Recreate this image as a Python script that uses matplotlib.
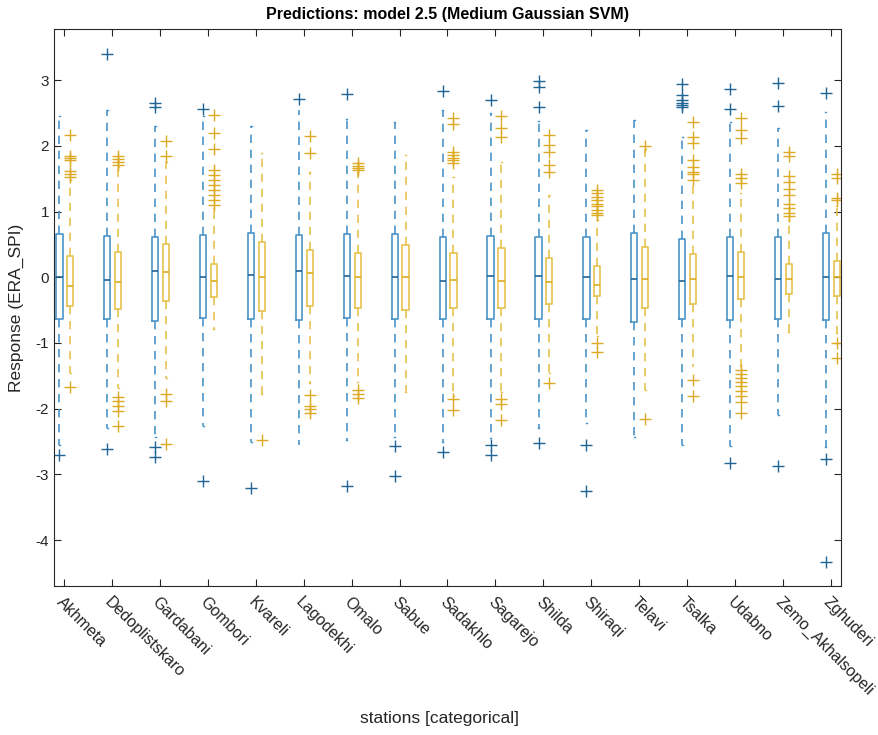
import matplotlib
matplotlib.use('Agg')
import matplotlib.pyplot as plt
import numpy as np

plt.rcParams['font.family'] = ['Liberation Sans', 'DejaVu Sans']
plt.rcParams['axes.unicode_minus'] = False

stations = ['Akhmeta', 'Dedoplistskaro', 'Gardabani', 'Gombori', 'Kvareli', 'Lagodekhi',
            'Omalo', 'Sabue', 'Sadakhlo', 'Sagarejo', 'Shilda', 'Shiraqi', 'Telavi',
            'Tsalka', 'Udabno', 'Zemo_Akhalsopeli', 'Zghuderi']

# true response (blue)
true_q1 = [-0.64, -0.64, -0.66, -0.62, -0.63, -0.65, -0.62, -0.64, -0.64, -0.63, -0.64,
           -0.64, -0.68, -0.64, -0.65, -0.64, -0.65]
true_med = [0.0, -0.04, 0.10, 0.0, 0.035, 0.10, 0.02, 0.0, -0.05, 0.02, 0.02,
            0.0, -0.02, -0.06, 0.02, -0.02, 0.01]
true_q3 = [0.66, 0.63, 0.61, 0.64, 0.67, 0.64, 0.66, 0.66, 0.62, 0.63, 0.61,
           0.62, 0.68, 0.59, 0.62, 0.62, 0.68]
true_wlo = [-2.55, -2.30, -2.43, -2.26, -2.50, -2.55, -2.48, -2.43, -2.50, -2.45, -2.30,
            -2.22, -2.43, -2.55, -2.57, -2.10, -2.58]
true_whi = [2.46, 2.55, 2.30, 2.45, 2.30, 2.55, 2.41, 2.37, 2.54, 2.50, 2.38,
            2.25, 2.40, 2.14, 2.37, 2.27, 2.51]
true_out = [
    [-2.70],
    [3.40, -2.61],
    [2.65, 2.59, -2.58, -2.73],
    [2.56, -3.10],
    [-3.21],
    [2.71],
    [2.79, -3.18],
    [-2.57, -3.02],
    [2.84, -2.66],
    [2.70, -2.55, -2.71],
    [2.99, 2.90, 2.59, -2.53],
    [-2.55, -3.25],
    [],
    [2.95, 2.78, 2.70, 2.65, 2.62, 2.59],
    [2.86, 2.56, -2.83],
    [2.96, 2.61, -2.88],
    [2.81, -2.77, -4.33],
]

# predicted response (yellow)
pred_q1 = [-0.44, -0.49, -0.36, -0.30, -0.51, -0.44, -0.46, -0.50, -0.47, -0.47, -0.40,
           -0.28, -0.47, -0.41, -0.33, -0.25, -0.28]
pred_med = [-0.13, -0.07, 0.08, -0.06, 0.01, 0.07, 0.0, 0.0, -0.04, -0.05, -0.07,
            -0.12, -0.02, -0.03, 0.01, -0.02, 0.0]
pred_q3 = [0.32, 0.38, 0.51, 0.20, 0.53, 0.42, 0.37, 0.49, 0.37, 0.44, 0.30,
           0.17, 0.46, 0.35, 0.39, 0.20, 0.25]
pred_wlo = [-1.45, -1.69, -1.54, -0.78, -1.77, -1.61, -1.59, -1.74, -1.80, -1.74, -1.46,
            -0.90, -1.72, -1.36, -1.35, -0.83, -0.85]
pred_whi = [1.48, 1.68, 1.76, 1.05, 1.89, 1.61, 1.60, 1.86, 1.53, 1.75, 1.25,
            0.88, 1.95, 1.40, 1.28, 0.87, 1.08]
pred_out = [
    [2.16, 1.85, 1.82, 1.78, 1.62, 1.58, 1.53, -1.67],
    [1.84, 1.80, 1.76, 1.71, -1.82, -1.89, -1.96, -2.03, -2.26],
    [2.07, 1.84, -1.77, -1.89, -2.54],
    [2.47, 2.19, 1.95, 1.63, 1.56, 1.48, 1.40, 1.33, 1.25, 1.18, 1.10],
    [-2.47],
    [2.15, 1.90, -1.79, -1.96, -2.01, -2.07],
    [1.74, 1.70, 1.66, 1.63, -1.71, -1.78, -1.84],
    [],
    [2.42, 2.34, 1.91, 1.86, 1.82, 1.78, 1.74, -1.86, -2.02],
    [2.45, 2.27, 2.13, -1.86, -1.93, -2.18],
    [2.17, 2.01, 1.91, 1.71, 1.61, -1.61],
    [1.33, 1.28, 1.22, 1.17, 1.12, 1.08, 1.03, 0.98, 0.95, -1.00, -1.13],
    [2.00, -2.16],
    [2.37, 2.14, 2.04, 1.79, 1.68, 1.61, 1.57, 1.48, -1.57, -1.81],
    [2.42, 2.24, 2.12, 1.58, 1.51, 1.43, -1.41, -1.47, -1.53, -1.60, -1.66, -1.73,
     -1.80, -1.90, -2.07],
    [1.91, 1.85, 1.55, 1.45, 1.35, 1.25, 1.12, 1.05, 0.98, 0.93],
    [1.58, 1.51, 1.20, 1.18, -1.00, -1.23],
]


def make_stats(q1, med, q3, wlo, whi, out):
    return [dict(q1=a, med=b, q3=c, whislo=d, whishi=e, fliers=f)
            for a, b, c, d, e, f in zip(q1, med, q3, wlo, whi, out)]


blue = '#4a93c8'
blue_dark = '#1f6596'
yellow = '#e8c24e'
yellow_dark = '#ddaa22'

fig = plt.figure(figsize=(8.79, 7.35), dpi=100)
ax = fig.add_axes([0.0614, 0.2027, 0.8954, 0.7578])

pos = np.arange(1, len(stations) + 1)


def draw(stats, positions, col, dark):
    ax.bxp(stats, positions=positions, widths=0.13, capwidths=0.02, showfliers=True,
           patch_artist=False,
           boxprops=dict(color=col, linewidth=1.2),
           medianprops=dict(color=dark, linewidth=1.2),
           whiskerprops=dict(color=col, linestyle=(0, (5, 4)), linewidth=1.2),
           capprops=dict(color=col, linewidth=1.0),
           flierprops=dict(marker='+', markeredgecolor=dark, markersize=9,
                           markeredgewidth=1.0, linestyle='none'))


draw(make_stats(true_q1, true_med, true_q3, true_wlo, true_whi, true_out),
     pos - 0.10, blue, blue_dark)
draw(make_stats(pred_q1, pred_med, pred_q3, pred_wlo, pred_whi, pred_out),
     pos + 0.125, yellow, yellow_dark)

ax.set_xlim(0.785, 17.215)
ax.set_ylim(-4.70, 3.78)
ax.set_xticks(pos)
ax.set_xticklabels(stations, rotation=-45, ha='left', va='top',
                   rotation_mode='anchor', fontsize=11.5, color='#262626')
for lbl in ax.get_xticklabels():
    lbl.set_x(lbl.get_position()[0])
ax.tick_params(axis='x', pad=6)
ax.set_yticks([-4, -3, -2, -1, 0, 1, 2, 3])
ax.tick_params(axis='y', labelsize=11, labelcolor='#262626')
ax.tick_params(direction='in', top=True, right=True, length=5, color='#262626')
for s in ax.spines.values():
    s.set_color('#262626')
    s.set_linewidth(0.8)

ax.set_title('Predictions: model 2.5 (Medium Gaussian SVM)', fontsize=11.5,
             fontweight='bold', pad=7)
ax.set_ylabel('Response (ERA_SPI)', fontsize=12.5, color='#262626', labelpad=8)
fig.text(0.5, 0.016, 'stations [categorical]', ha='center', fontsize=12.5, color='#262626')

fig.savefig('out.png', dpi=100)
